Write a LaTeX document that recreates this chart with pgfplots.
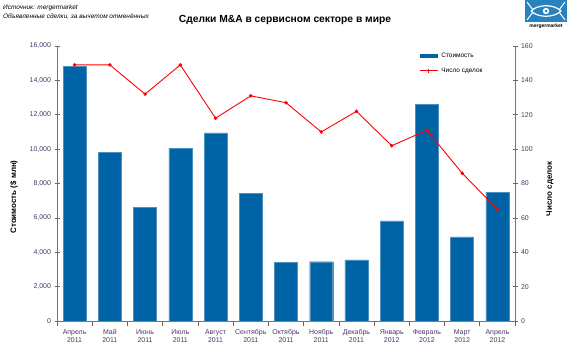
\documentclass[border=0pt]{standalone}
\usepackage{pgfplots}
\pgfplotsset{compat=1.18}
\usepackage{fontspec}
\setmainfont{Liberation Sans}
\definecolor{barblue}{RGB}{0,99,166}
\definecolor{ticklab}{RGB}{75,55,105}
\definecolor{logoblue}{RGB}{40,130,190}
\begin{document}
\begin{tikzpicture}[x=1bp,y=1bp]
\path (0,0) rectangle (570,350);
\pgfplotsset{
  common/.style={
    scale only axis, width=458bp, height=275bp, at={(57bp,29bp)}, anchor=south west,
    xmin=-0.5, xmax=12.5,
    axis line style={black!55, line width=0.8pt},
    every tick/.append style={black!60, line width=0.6pt},
    tick align=center,
    major tick length=5bp, minor tick length=5bp,
    scaled y ticks=false,
    /pgf/number format/assume math mode=true,
    tick label style={font=\fontsize{7}{8}\selectfont, text=ticklab},
    yticklabel style={/pgf/number format/.cd, 1000 sep={,}, fixed},
  }
}
\begin{axis}[common,
  ymin=0, ymax=16000,
  axis x line*=bottom, axis y line*=left,
  xtick={0,...,12},
  xticklabels={{Апрель\\2011},{Май\\2011},{Июнь\\2011},{Июль\\2011},{Август\\2011},{Сентябрь\\2011},{Октябрь\\2011},{Ноябрь\\2011},{Декабрь\\2011},{Январь\\2012},{Февраль\\2012},{Март\\2012},{Апрель\\2012}},
  x tick label style={align=center, font=\fontsize{7}{8}\selectfont},
  major x tick style={draw=none},
  minor xtick={-0.5,0.5,...,12.5},
  ytick={0,2000,...,16000},
  ybar, bar width=23bp,
]
\addplot[fill=barblue, draw=barblue!70] coordinates {
(0,14830) (1,9800) (2,6600) (3,10040) (4,10940) (5,7420) (6,3400) (7,3450) (8,3560) (9,5820) (10,12600) (11,4900) (12,7480)};
\end{axis}
\begin{axis}[common,
  ymin=0, ymax=160,
  axis x line=none, axis y line*=right,
  ytick={0,20,...,160},
  legend style={draw=none, fill=none, at={(0.781,0.99)}, anchor=north west,
    font=\fontsize{6.5}{7.5}\selectfont, row sep=5bp, cells={anchor=west},
    /tikz/every even column/.append style={column sep=4bp}},
]
\addlegendimage{legend image code/.code={\draw[barblue, line width=3.5bp] (0bp,0bp) -- (18bp,0bp);}}
\addlegendentry{Стоимость}
\addplot[red, line width=0.9pt, mark=*, mark size=1.3pt, mark options={fill=red},
  legend image code/.code={\draw[red, line width=0.9pt] (0bp,0bp) -- (18bp,0bp); \draw[red, line width=0.8pt] (9bp,-2bp) -- (9bp,2bp);}] coordinates {
(0,149) (1,149) (2,132) (3,149) (4,118) (5,131) (6,127) (7,110) (8,122) (9,102) (10,111) (11,86) (12,65)};
\addlegendentry{Число сделок}
\end{axis}
% labels and titles
\node[rotate=90, font=\bfseries\fontsize{8}{9}\selectfont] at (14,153) {Стоимость (\$ млн)};
\node[rotate=90, font=\bfseries\fontsize{8}{9}\selectfont] at (550,161) {Число сделок};
\node[font=\bfseries\fontsize{10.3}{12}\selectfont] at (285,330) {Сделки M\&A в сервисном секторе в мире};
\node[anchor=west, font=\itshape\fontsize{6.5}{7.5}\selectfont, inner sep=0] at (3,342) {Источник: mergermarket};
\node[anchor=west, font=\itshape\fontsize{6.5}{7.5}\selectfont, inner sep=0] at (3,333) {Объявленные сделки, за вычетом отменённых};
% logo
\fill[logoblue] (525,328) rectangle (567,350);
\draw[white, line width=1.2pt] (531,339) .. controls (538,346) and (554,346) .. (561,339) .. controls (554,332) and (538,332) .. (531,339);
\fill[white] (546,339) circle (3.2);
\fill[logoblue] (546,339) circle (1.5);
\draw[white, line width=1pt] (527,348) -- (533,340) (527,330) -- (533,338) (565,348) -- (559,340) (565,330) -- (559,338);
\node[font=\bfseries\fontsize{5}{6}\selectfont, inner sep=0] at (546,324) {mergermarket};
\end{tikzpicture}
\end{document}
